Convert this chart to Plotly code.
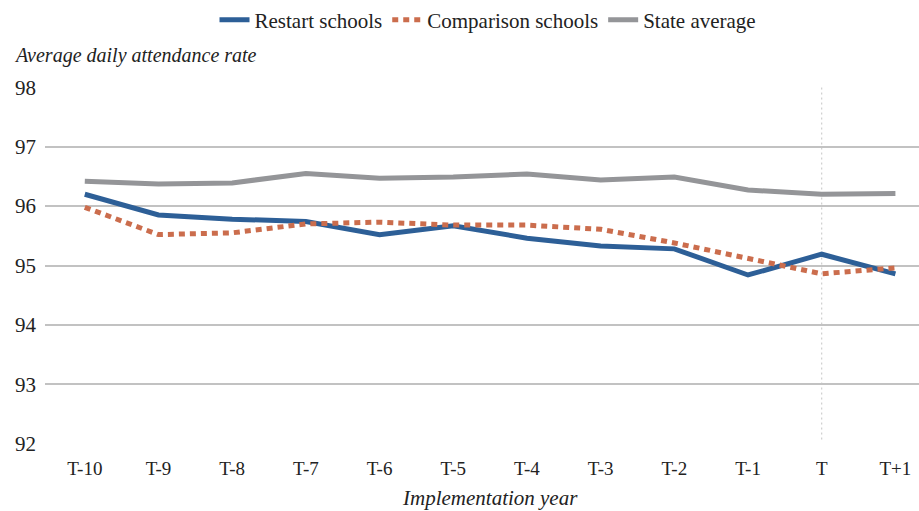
import plotly.graph_objects as go

# Implementation years relative to restart (T)
years = ["T-10", "T-9", "T-8", "T-7", "T-6", "T-5", "T-4", "T-3", "T-2", "T-1", "T", "T+1"]

# Average daily attendance rate (%)
restart = [96.20, 95.85, 95.78, 95.74, 95.52, 95.67, 95.46, 95.33, 95.28, 94.84, 95.19, 94.86]
comparison = [95.98, 95.52, 95.55, 95.70, 95.73, 95.68, 95.68, 95.61, 95.38, 95.13, 94.86, 94.96]
state_avg = [96.42, 96.37, 96.39, 96.55, 96.47, 96.49, 96.54, 96.44, 96.49, 96.27, 96.20, 96.21]

y_ticks = [92, 93, 94, 95, 96, 97, 98]

FONT = "'Liberation Serif', 'Times New Roman', 'DejaVu Serif', serif"
BLUE = "#2D5F97"
ORANGE = "#CB6D4D"
GRAY = "#949598"

fig = go.Figure()
fig.add_trace(go.Scatter(x=years, y=restart, name="Restart schools", mode="lines",
                         line=dict(color=BLUE, width=5)))
fig.add_trace(go.Scatter(x=years, y=comparison, name="Comparison schools", mode="lines",
                         line=dict(color=ORANGE, width=5, dash="6px,5px")))
fig.add_trace(go.Scatter(x=years, y=state_avg, name="State average", mode="lines",
                         line=dict(color=GRAY, width=5)))

# Dotted marker at the implementation year
fig.add_shape(type="line", xref="x", yref="y", x0=years.index("T"), x1=years.index("T"),
              y0=92.07, y1=98, line=dict(color="#C4C4C4", width=1, dash="2px,3px"), layer="below")

fig.update_layout(
    width=919, height=511,
    margin=dict(l=45, r=0, t=87, b=67),
    paper_bgcolor="white", plot_bgcolor="white",
    font=dict(family=FONT, size=19, color="#222222"),
    showlegend=True,
    legend=dict(orientation="h", x=488 / 919, xanchor="center", xref="container",
                y=1 - 20 / 511, yanchor="middle", yref="container",
                font=dict(size=21), itemwidth=30, tracegroupgap=0),
    xaxis=dict(type="category", range=[-0.54, 11.32], showgrid=False, showline=False,
               zeroline=False, ticks="", tickfont=dict(size=19), ticklabelstandoff=11),
    yaxis=dict(range=[91.995, 98.005], tickvals=y_ticks, showgrid=True,
               gridcolor="#C2C2C2", gridwidth=1.5, zeroline=False, showline=False,
               ticks="", tickfont=dict(size=21), ticklabelstandoff=8),
    annotations=[
        dict(text="<i>Average daily attendance rate</i>", xref="paper", yref="paper",
             x=-0.038, y=(444 - 55) / 357, xanchor="left", yanchor="middle",
             showarrow=False, font=dict(size=20)),
        dict(text="<i>Implementation year</i>", xref="paper", yref="paper",
             x=(490 - 45) / 874, y=-54 / 357, xanchor="center", yanchor="middle",
             showarrow=False, font=dict(size=21)),
    ],
)

fig.write_html("out.html")
